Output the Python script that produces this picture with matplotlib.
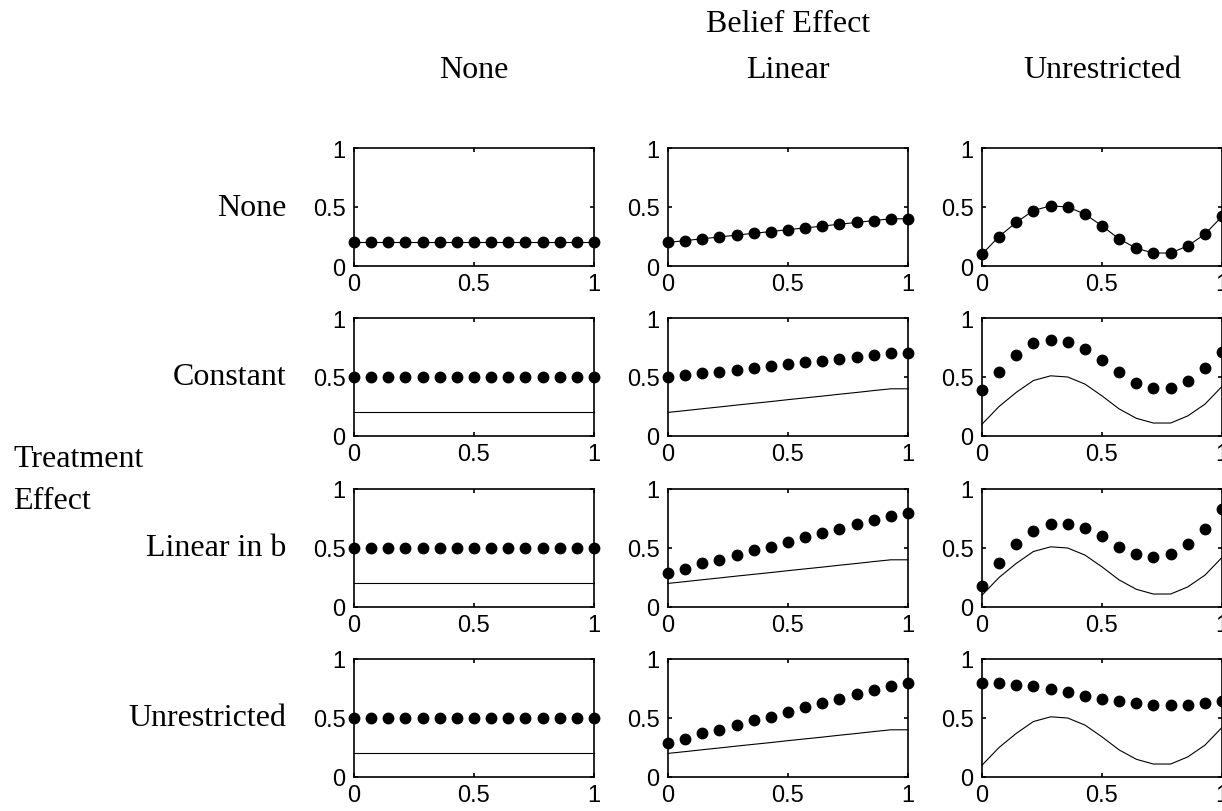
import matplotlib
matplotlib.use("Agg")
import matplotlib.pyplot as plt

# belief grid (15 points from 0 to 1)
b = [0, 0.071, 0.143, 0.214, 0.286, 0.357, 0.429, 0.5,
     0.571, 0.643, 0.714, 0.786, 0.857, 0.929, 1.0]

# baseline (untreated) curves, one per belief-effect column
base_none = [0.2, 0.2, 0.2, 0.2, 0.2, 0.2, 0.2, 0.2, 0.2, 0.2, 0.2, 0.2, 0.2, 0.2, 0.2]
base_linear = [0.2, 0.215, 0.231, 0.246, 0.262, 0.277, 0.292, 0.308,
               0.323, 0.338, 0.354, 0.369, 0.385, 0.4, 0.4]
base_unres = [0.10, 0.25, 0.37, 0.47, 0.51, 0.50, 0.44, 0.34,
              0.23, 0.15, 0.11, 0.11, 0.17, 0.27, 0.42]

# treated values (dots)
const_flat = [0.5, 0.5, 0.5, 0.5, 0.5, 0.5, 0.5, 0.5, 0.5, 0.5, 0.5, 0.5, 0.5, 0.5, 0.5]
const_linear = [0.5, 0.515, 0.531, 0.546, 0.562, 0.577, 0.592, 0.608,
                0.623, 0.638, 0.654, 0.669, 0.685, 0.7, 0.7]
const_unres = [0.39, 0.545, 0.69, 0.79, 0.815, 0.80, 0.74, 0.64,
               0.545, 0.45, 0.406, 0.406, 0.466, 0.58, 0.716]
linb_linear = [0.29, 0.32, 0.37, 0.40, 0.44, 0.48, 0.51, 0.55,
               0.59, 0.63, 0.66, 0.70, 0.74, 0.77, 0.80]
linb_unres = [0.18, 0.37, 0.53, 0.64, 0.70, 0.70, 0.67, 0.60,
              0.51, 0.45, 0.42, 0.45, 0.53, 0.66, 0.83]
unr_linear = [0.29, 0.32, 0.37, 0.40, 0.44, 0.48, 0.51, 0.55,
              0.59, 0.63, 0.66, 0.70, 0.74, 0.77, 0.80]
unr_unres = [0.80, 0.80, 0.78, 0.77, 0.75, 0.72, 0.69, 0.66,
             0.64, 0.63, 0.61, 0.61, 0.61, 0.63, 0.64]

col_titles = ["None", "Linear", "Unrestricted"]
row_titles = ["None", "Constant", "Linear in b", "Unrestricted"]

bases = [base_none, base_linear, base_unres]
dots = [
    [base_none, base_linear, base_unres],
    [const_flat, const_linear, const_unres],
    [const_flat, linb_linear, linb_unres],
    [const_flat, unr_linear, unr_unres],
]

W, H = 1222, 812
col_left = [354, 668, 982]
col_w = 240
row_top = [149, 319, 490, 660]
row_h = 118

serif = "Liberation Serif"
sans = "Liberation Sans"

fig = plt.figure(figsize=(W / 100, H / 100), dpi=100)

for i in range(4):
    for j in range(3):
        ax = fig.add_axes([col_left[j] / W, 1 - (row_top[i] + row_h) / H,
                           col_w / W, row_h / H])
        ax.plot(b, bases[j], color="black", lw=0.8, clip_on=False)
        ax.plot(b, dots[i][j], "o", color="black", ms=7.5, clip_on=False)
        ax.set_xlim(0, 1)
        ax.set_ylim(0, 1)
        ax.set_xticks([0, 0.5, 1])
        ax.set_yticks([0, 0.5, 1])
        ax.set_xticklabels(["0", "0.5", "1"], family=sans, fontsize=17)
        ax.set_yticklabels(["0", "0.5", "1"], family=sans, fontsize=17)
        ax.tick_params(direction="in", length=3, width=1.2, top=True, right=True)
        ax.tick_params(axis="x", pad=5)
        ax.tick_params(axis="y", pad=6)
        for s in ax.spines.values():
            s.set_linewidth(1.2)

        if i == 0:
            fig.text((col_left[j] + col_w / 2) / W, 1 - 70 / H, col_titles[j],
                     ha="center", va="center", family=serif, fontsize=23)
        if j == 0:
            fig.text(286 / W, 1 - (row_top[i] + row_h / 2) / H, row_titles[i],
                     ha="right", va="center", family=serif, fontsize=23)

fig.text((col_left[1] + col_w / 2) / W, 1 - 24 / H, "Belief Effect",
         ha="center", va="center", family=serif, fontsize=23)
fig.text(13 / W, 1 - 460 / H, "Treatment", ha="left", va="center",
         family=serif, fontsize=23)
fig.text(13 / W, 1 - 502 / H, "Effect", ha="left", va="center",
         family=serif, fontsize=23)

fig.savefig("out.png", dpi=100)
